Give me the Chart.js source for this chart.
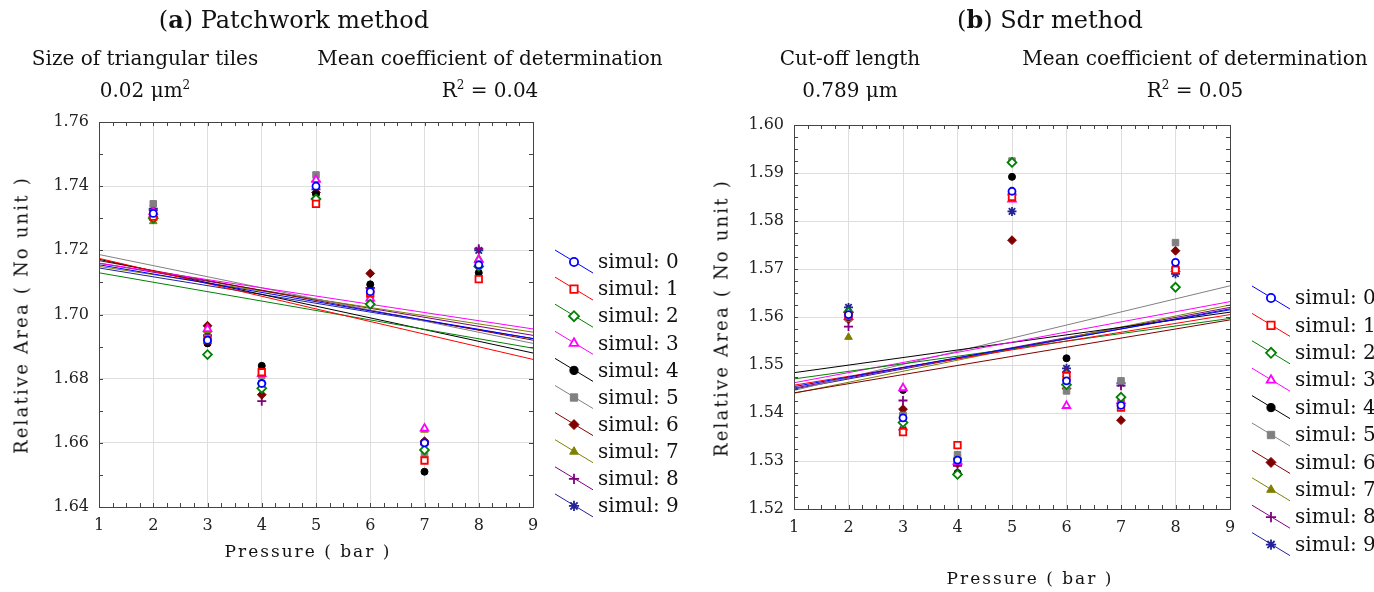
<!DOCTYPE html>
<html>
<head>
<meta charset="utf-8">
<script src="https://cdn.jsdelivr.net/npm/chart.js@4/dist/chart.umd.min.js"></script>
<style>
  body { margin: 0; background: #fff; width: 1374px; height: 592px; overflow: hidden; position: relative; font-family: "DejaVu Serif", serif; color: #111; }
  canvas { position: absolute; top: 0; }
  .txt { position: absolute; transform: translate(-50%, -50%); white-space: nowrap; }
  .head { font-size: 24px; }
  .sub { font-size: 20px; }
  .axis { font-size: 17px; letter-spacing: 2px; }
  .ytitle { font-size: 18px; letter-spacing: 2.2px; transform: translate(-50%, -50%) rotate(-90deg); }
  sup { font-size: 0.6em; }
</style>
</head>
<body>
<canvas id="patchChart" width="690" height="592" style="left:0"></canvas>
<canvas id="sdrChart" width="684" height="592" style="left:690px"></canvas>

<div class="txt head" style="left:294px;top:19px">(<b>a</b>) Patchwork method</div>
<div class="txt sub" style="left:145px;top:58px">Size of triangular tiles</div>
<div class="txt sub" style="left:145px;top:90px">0.02 μm<sup>2</sup></div>
<div class="txt sub" style="left:490px;top:58px">Mean coefficient of determination</div>
<div class="txt sub" style="left:490px;top:90px">R<sup>2</sup> = 0.04</div>
<div class="txt ytitle" style="left:21px;top:315px">Relative Area ( No unit )</div>
<div class="txt axis" style="left:308px;top:551px">Pressure ( bar )</div>

<div class="txt head" style="left:1050px;top:19px">(<b>b</b>) Sdr method</div>
<div class="txt sub" style="left:850px;top:58px">Cut-off length</div>
<div class="txt sub" style="left:850px;top:90px">0.789 μm</div>
<div class="txt sub" style="left:1195px;top:58px">Mean coefficient of determination</div>
<div class="txt sub" style="left:1195px;top:90px">R<sup>2</sup> = 0.05</div>
<div class="txt ytitle" style="left:721px;top:318px">Relative Area ( No unit )</div>
<div class="txt axis" style="left:1030px;top:578px">Pressure ( bar )</div>

<script>
// pressures where the simulations were measured
const pressures = [2, 3, 4, 5, 6, 7, 8];
const seriesNames = ['simul: 0', 'simul: 1', 'simul: 2', 'simul: 3', 'simul: 4',
                     'simul: 5', 'simul: 6', 'simul: 7', 'simul: 8', 'simul: 9'];

// (a) patchwork method, one row per simulation, values at pressures 2..8
const patchworkArea = [
  [1.7315, 1.6920, 1.6785, 1.7400, 1.7071, 1.6600, 1.7155],
  [1.7305, 1.6920, 1.6820, 1.7345, 1.7066, 1.6545, 1.7110],
  [1.7300, 1.6875, 1.6770, 1.7360, 1.7032, 1.6578, 1.7150],
  [1.7320, 1.6955, 1.6815, 1.7420, 1.7050, 1.6645, 1.7170],
  [1.7310, 1.6910, 1.6840, 1.7375, 1.7094, 1.6510, 1.7130],
  [1.7345, 1.6925, 1.6810, 1.7435, 1.7050, 1.6565, 1.7160],
  [1.7305, 1.6965, 1.6750, 1.7380, 1.7128, 1.6605, 1.7165],
  [1.7290, 1.6950, 1.6815, 1.7350, 1.7040, 1.6640, 1.7175],
  [1.7325, 1.6935, 1.6730, 1.7415, 1.7083, 1.6595, 1.7205],
  [1.7330, 1.6935, 1.6785, 1.7390, 1.7083, 1.6600, 1.7200]
];
// fitted lines, value at pressure 1 and at pressure 9
const patchworkFitStart = [1.7155, 1.7175, 1.7130, 1.7160, 1.7172, 1.7187, 1.7168, 1.7150, 1.7160, 1.7145];
const patchworkFitEnd   = [1.6925, 1.6860, 1.6895, 1.6955, 1.6880, 1.6910, 1.6920, 1.6945, 1.6935, 1.6925];

// (b) Sdr method
const sdrArea = [
  [1.5605, 1.5390, 1.5302, 1.5862, 1.5467, 1.5416, 1.5714],
  [1.5602, 1.5360, 1.5333, 1.5850, 1.5477, 1.5411, 1.5698],
  [1.5610, 1.5380, 1.5272, 1.5922, 1.5459, 1.5433, 1.5662],
  [1.5600, 1.5452, 1.5298, 1.5845, 1.5415, 1.5425, 1.5700],
  [1.5600, 1.5448, 1.5275, 1.5892, 1.5514, 1.5412, 1.5702],
  [1.5598, 1.5395, 1.5313, 1.5925, 1.5446, 1.5467, 1.5755],
  [1.5595, 1.5408, 1.5295, 1.5760, 1.5451, 1.5385, 1.5738],
  [1.5558, 1.5402, 1.5310, 1.5852, 1.5480, 1.5430, 1.5705],
  [1.5580, 1.5426, 1.5290, 1.5855, 1.5485, 1.5457, 1.5695],
  [1.5620, 1.5365, 1.5305, 1.5820, 1.5493, 1.5462, 1.5690]
];
const sdrFitStart = [1.5455, 1.5458, 1.5471, 1.5463, 1.5484, 1.5447, 1.5442, 1.5441, 1.5452, 1.5450];
const sdrFitEnd   = [1.5615, 1.5605, 1.5597, 1.5632, 1.5610, 1.5665, 1.5594, 1.5625, 1.5620, 1.5617];

const fitRange = [1, 9];

// marker look per simulation
const colors = ['#0000ff', '#ff0000', '#008000', '#ff00ff', '#000000',
                '#808080', '#800000', '#808000', '#800080', '#22229a'];
const markers = ['circle', 'rect', 'rectRot', 'triangle', 'circle',
                 'rect', 'rectRot', 'triangle', 'cross', 'star'];
const filled = [false, false, false, false, true, true, true, true, false, false];
const radii = [3.5, 4.6, 4.4, 4.4, 3.5, 4.6, 4.4, 4.4, 4.5, 4.5];

const serif = 'DejaVu Serif';

function buildDatasets(area, fitStart, fitEnd) {
  var sets = [];
  for (var i = 0; i < area.length; i++) {
    sets.push({
      label: seriesNames[i] + ' fit',
      data: [{ x: fitRange[0], y: fitStart[i] }, { x: fitRange[1], y: fitEnd[i] }],
      showLine: true,
      borderColor: colors[i],
      borderWidth: 1,
      pointRadius: 0,
      order: 2
    });
  }
  for (var j = 0; j < area.length; j++) {
    sets.push({
      label: seriesNames[j],
      data: pressures.map(function (p, k) { return { x: p, y: area[j][k] }; }),
      showLine: false,
      pointStyle: markers[j],
      pointRadius: radii[j],
      pointBorderWidth: filled[j] ? 1 : 1.8,
      pointBorderColor: colors[j],
      pointBackgroundColor: filled[j] ? colors[j] : '#ffffff',
      order: 1
    });
  }
  return sets;
}

// frame with small inward ticks
const framePlugin = {
  id: 'frame',
  afterDraw: function (chart, args, opts) {
    var ctx = chart.ctx, a = chart.chartArea;
    var xs = chart.scales.x, ys = chart.scales.y;
    ctx.save();
    ctx.strokeStyle = '#444';
    ctx.lineWidth = 1;
    ctx.strokeRect(Math.round(a.left) + 0.5, Math.round(a.top) + 0.5,
                   Math.round(a.right - a.left), Math.round(a.bottom - a.top));
    ctx.beginPath();
    for (var v = xs.min; v <= xs.max + 1e-9; v += opts.xMinor) {
      var px = Math.round(xs.getPixelForValue(v)) + 0.5;
      ctx.moveTo(px, a.top); ctx.lineTo(px, a.top + 4);
      ctx.moveTo(px, a.bottom); ctx.lineTo(px, a.bottom - 4);
    }
    for (var w = ys.min; w <= ys.max + 1e-9; w += opts.yMinor) {
      var py = Math.round(ys.getPixelForValue(w)) + 0.5;
      ctx.moveTo(a.left, py); ctx.lineTo(a.left + 4, py);
      ctx.moveTo(a.right, py); ctx.lineTo(a.right - 4, py);
    }
    ctx.stroke();
    ctx.restore();
  }
};

// legend: slanted line with the marker on it
const sideLegend = {
  id: 'sideLegend',
  afterDraw: function (chart, args, opts) {
    var ctx = chart.ctx, a = chart.chartArea;
    var x0 = a.right + opts.offsetX, y0 = a.top + opts.offsetY;
    ctx.save();
    for (var i = 0; i < seriesNames.length; i++) {
      var yc = y0 + i * opts.spacing;
      ctx.strokeStyle = colors[i];
      ctx.lineWidth = 1;
      ctx.beginPath();
      ctx.moveTo(x0, yc - 12);
      ctx.lineTo(x0 + 38, yc + 11);
      ctx.stroke();
      ctx.fillStyle = filled[i] ? colors[i] : '#ffffff';
      ctx.lineWidth = filled[i] ? 1 : 1.8;
      Chart.helpers.drawPoint(ctx, {
        pointStyle: markers[i], radius: radii[i] + 0.6, rotation: 0, borderWidth: ctx.lineWidth
      }, x0 + 19, yc);
      ctx.fillStyle = '#111';
      ctx.font = '20px "' + serif + '"';
      ctx.textBaseline = 'middle';
      ctx.fillText(seriesNames[i], x0 + 43, yc + 1);
    }
    ctx.restore();
  }
};

function makeChart(id, area, fitStart, fitEnd, yMin, yMax, yStep, yMinor, pad, yWidth, legendPos) {
  var ctx = document.getElementById(id).getContext('2d');
  return new Chart(ctx, {
    type: 'scatter',
    data: { datasets: buildDatasets(area, fitStart, fitEnd) },
    options: {
      responsive: false,
      animation: false,
      layout: { padding: pad },
      scales: {
        x: {
          type: 'linear', min: 1, max: 9,
          afterFit: function (s) { s.height = 30; },
          border: { display: false },
          grid: { color: '#dedede', drawTicks: false },
          ticks: { stepSize: 1, padding: 9, color: '#222', font: { family: serif, size: 16 } }
        },
        y: {
          min: yMin, max: yMax,
          afterFit: function (s) { s.width = yWidth; },
          border: { display: false },
          grid: { color: '#dedede', drawTicks: false },
          ticks: {
            stepSize: yStep, padding: 10, color: '#222', font: { family: serif, size: 16 },
            callback: function (v) { return Number(v).toFixed(2); }
          }
        }
      },
      plugins: {
        legend: { display: false },
        tooltip: { enabled: false },
        frame: { xMinor: 0.25, yMinor: yMinor },
        sideLegend: legendPos
      }
    },
    plugins: [framePlugin, sideLegend]
  });
}

makeChart('patchChart', patchworkArea, patchworkFitStart, patchworkFitEnd,
  1.64, 1.76, 0.02, 0.01,
  { top: 122, right: 157, bottom: 55, left: 0 }, 99,
  { offsetX: 22, offsetY: 140, spacing: 27.1 });

makeChart('sdrChart', sdrArea, sdrFitStart, sdrFitEnd,
  1.52, 1.60, 0.01, 0.0025,
  { top: 125, right: 144, bottom: 53, left: 0 }, 104,
  { offsetX: 22, offsetY: 173, spacing: 27.4 });
</script>
</body>
</html>
